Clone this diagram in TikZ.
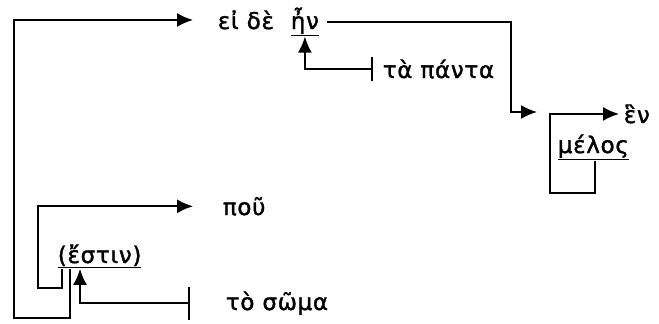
\documentclass[tikz,border=0pt]{standalone}
\usepackage{fontspec}
\setmainfont{DejaVu Sans}[LetterSpace=3, FakeBold=1.5]
\usetikzlibrary{arrows.meta}
\begin{document}
\begin{tikzpicture}[x=1pt, y=-1pt, >={Latex[length=16pt,width=14pt]}, line width=1.7pt,
  word/.style={inner sep=0pt, anchor=base west, font=\fontsize{23}{27}\selectfont}]
\useasboundingbox (0,0) rectangle (659,324);
% words
\node[word] (eide) at (217,29) {εἰ δὲ};
\node[word] (hn) at (290,29) {\underline{ἦν}};
\node[word] (panta) at (382,78) {τὰ πάντα};
\node[word] (hen) at (623,123) {ἓν};
\node[word] (melos) at (557,153) {\underline{μέλος}};
\node[word] (pou) at (222,215) {ποῦ};
\node[word] (estin) at (57,263) {\underline{(ἔστιν)}};
\node[word] (soma) at (225,310) {τὸ σῶμα};
% bends
\coordinate (hnbend) at (511,112);
\coordinate (hnend) at (537,112);
\coordinate (melosbend) at (550,193);
\coordinate (poubend) at (38,288);
\coordinate (eidebend) at (14,318);
% connectors
\draw[->] ([xshift=7pt]hn.east) -| (hnbend) -- (hnend);
\draw[{Bar[width=24pt]}->] ([xshift=-9pt]panta.west) -| (hn.south);
\draw[->] ([xshift=38pt]melos.south west) |- (melosbend) |- ([xshift=-4pt]hen.west);
\draw[->] ([xshift=5pt]estin.south west) |- (poubend) |- ([xshift=-29pt]pou.west);
\draw[->] ([xshift=13pt]estin.south west) |- (eidebend) |- ([xshift=-24pt]eide.west);
\draw[{Bar[width=33pt]}->] ([xshift=-35pt]soma.west) -| ([xshift=23pt]estin.south west);
\end{tikzpicture}
\end{document}
